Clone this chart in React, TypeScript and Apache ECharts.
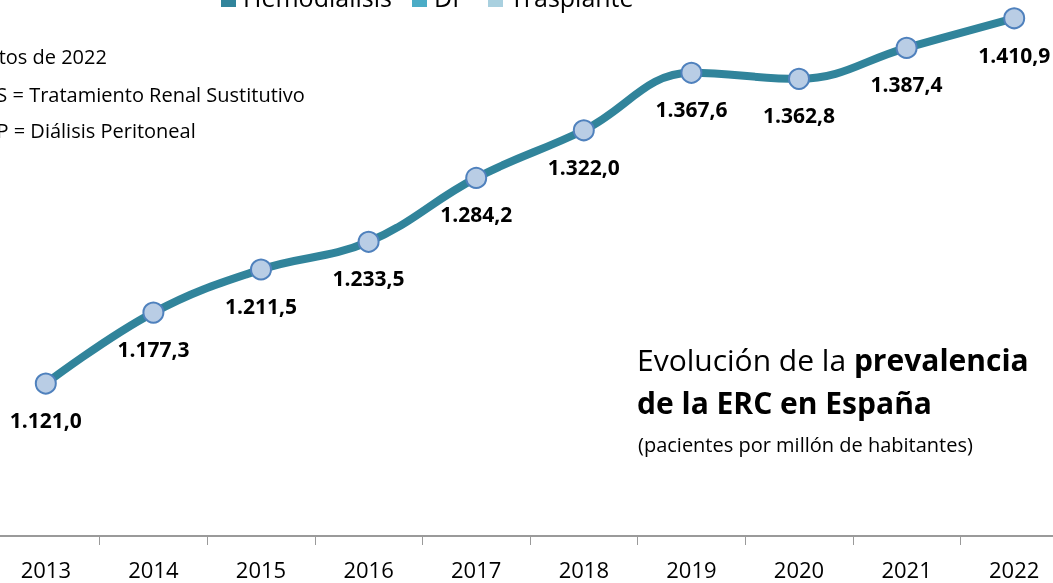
import React, { useEffect, useRef } from "react";
import * as echarts from "echarts";

const years = ["2013", "2014", "2015", "2016", "2017", "2018", "2019", "2020", "2021", "2022"];
const prevalence = [1121.0, 1177.3, 1211.5, 1233.5, 1284.2, 1322.0, 1367.6, 1362.8, 1387.4, 1410.9];
const legendItems = ["Hemodiálisis", "DP", "Trasplante"];
const legendColors = ["#31849B", "#4BACC6", "#A9D0DF"];
const notes = ["Datos de 2022", "TRS = Tratamiento Renal Sustitutivo", "DP = Diálisis Peritoneal"];

const FONT = "'Open Sans', 'Noto Sans', sans-serif";
// the chart canvas is larger than the page and shifted so the plot bleeds past the edges
const OX = 8;
const OY = 31;

function fmt(v: number): string {
  const [i, d] = v.toFixed(1).split(".");
  return i.replace(/\B(?=(\d{3})+(?!\d))/g, ".") + "," + d;
}

export default function App() {
  const ref = useRef<HTMLDivElement>(null);
  useEffect(() => {
    if (!ref.current) return;
    const chart = echarts.init(ref.current, undefined, { renderer: "svg" });
    const legendX = [221, 412, 488];
    const graphic: any[] = [];
    legendItems.forEach((name, i) => {
      graphic.push({ type: "rect", shape: { x: legendX[i] + OX, y: -8 + OY, width: 15, height: 15 }, style: { fill: legendColors[i] } });
      graphic.push({
        type: "text",
        x: legendX[i] + 22 + OX,
        y: -3 + OY,
        style: { text: name, font: `25px ${FONT}`, fill: "#000", textVerticalAlign: "middle" },
      });
    });
    const noteX = [-27, -27, -18];
    const noteY = [56, 94, 130];
    notes.forEach((t, i) => {
      graphic.push({
        type: "text",
        x: noteX[i] + OX,
        y: noteY[i] + OY,
        style: { text: t, font: `20px ${FONT}`, fill: "#000", textVerticalAlign: "middle" },
      });
    });
    graphic.push({
      type: "text",
      x: 637 + OX,
      y: 338 + OY,
      style: {
        text: "{n|Evolución de la }{b|prevalencia}\n{b|de la ERC en España}",
        rich: {
          n: { fontSize: 30, fontFamily: FONT, fontWeight: "normal", fill: "#000", lineHeight: 43 },
          b: { fontSize: 30, fontFamily: FONT, fontWeight: "bold", fill: "#000", lineHeight: 43 },
        },
      },
    });
    graphic.push({
      type: "text",
      x: 638 + OX,
      y: 444 + OY,
      style: { text: "(pacientes por millón de habitantes)", font: `20px ${FONT}`, fill: "#000", textVerticalAlign: "middle" },
    });

    chart.setOption({
      animation: false,
      grid: { left: 0, right: 0, top: 0, bottom: 47, containLabel: false },
      xAxis: {
        type: "category",
        data: years,
        boundaryGap: true,
        axisLine: { lineStyle: { color: "#9A9A9A", width: 2 } },
        axisTick: { show: true, length: 9, lineStyle: { color: "#9A9A9A" } },
        axisLabel: { fontSize: 22, color: "#000", fontFamily: FONT, margin: 22 },
      },
      yAxis: {
        type: "value",
        min: 1000,
        max: 1450,
        show: false,
        splitLine: { show: false },
      },
      graphic,
      series: [
        {
          type: "line",
          data: prevalence,
          smooth: 0.4,
          symbol: "circle",
          symbolSize: 20,
          lineStyle: { color: "#31849B", width: 8 },
          itemStyle: { color: "#B9CDE5", borderColor: "#4F81BD", borderWidth: 2 },
          label: {
            show: true,
            position: "bottom",
            distance: 15,
            formatter: (p: any) => fmt(p.value),
            fontSize: 21,
            fontWeight: "bold",
            color: "#000",
            fontFamily: FONT,
          },
          z: 3,
        },
      ],
    });
    return () => chart.dispose();
  }, []);
  return <div ref={ref} style={{ position: "fixed", left: -OX, top: -OY, width: 1076, height: 583 + OY }} />;
}
